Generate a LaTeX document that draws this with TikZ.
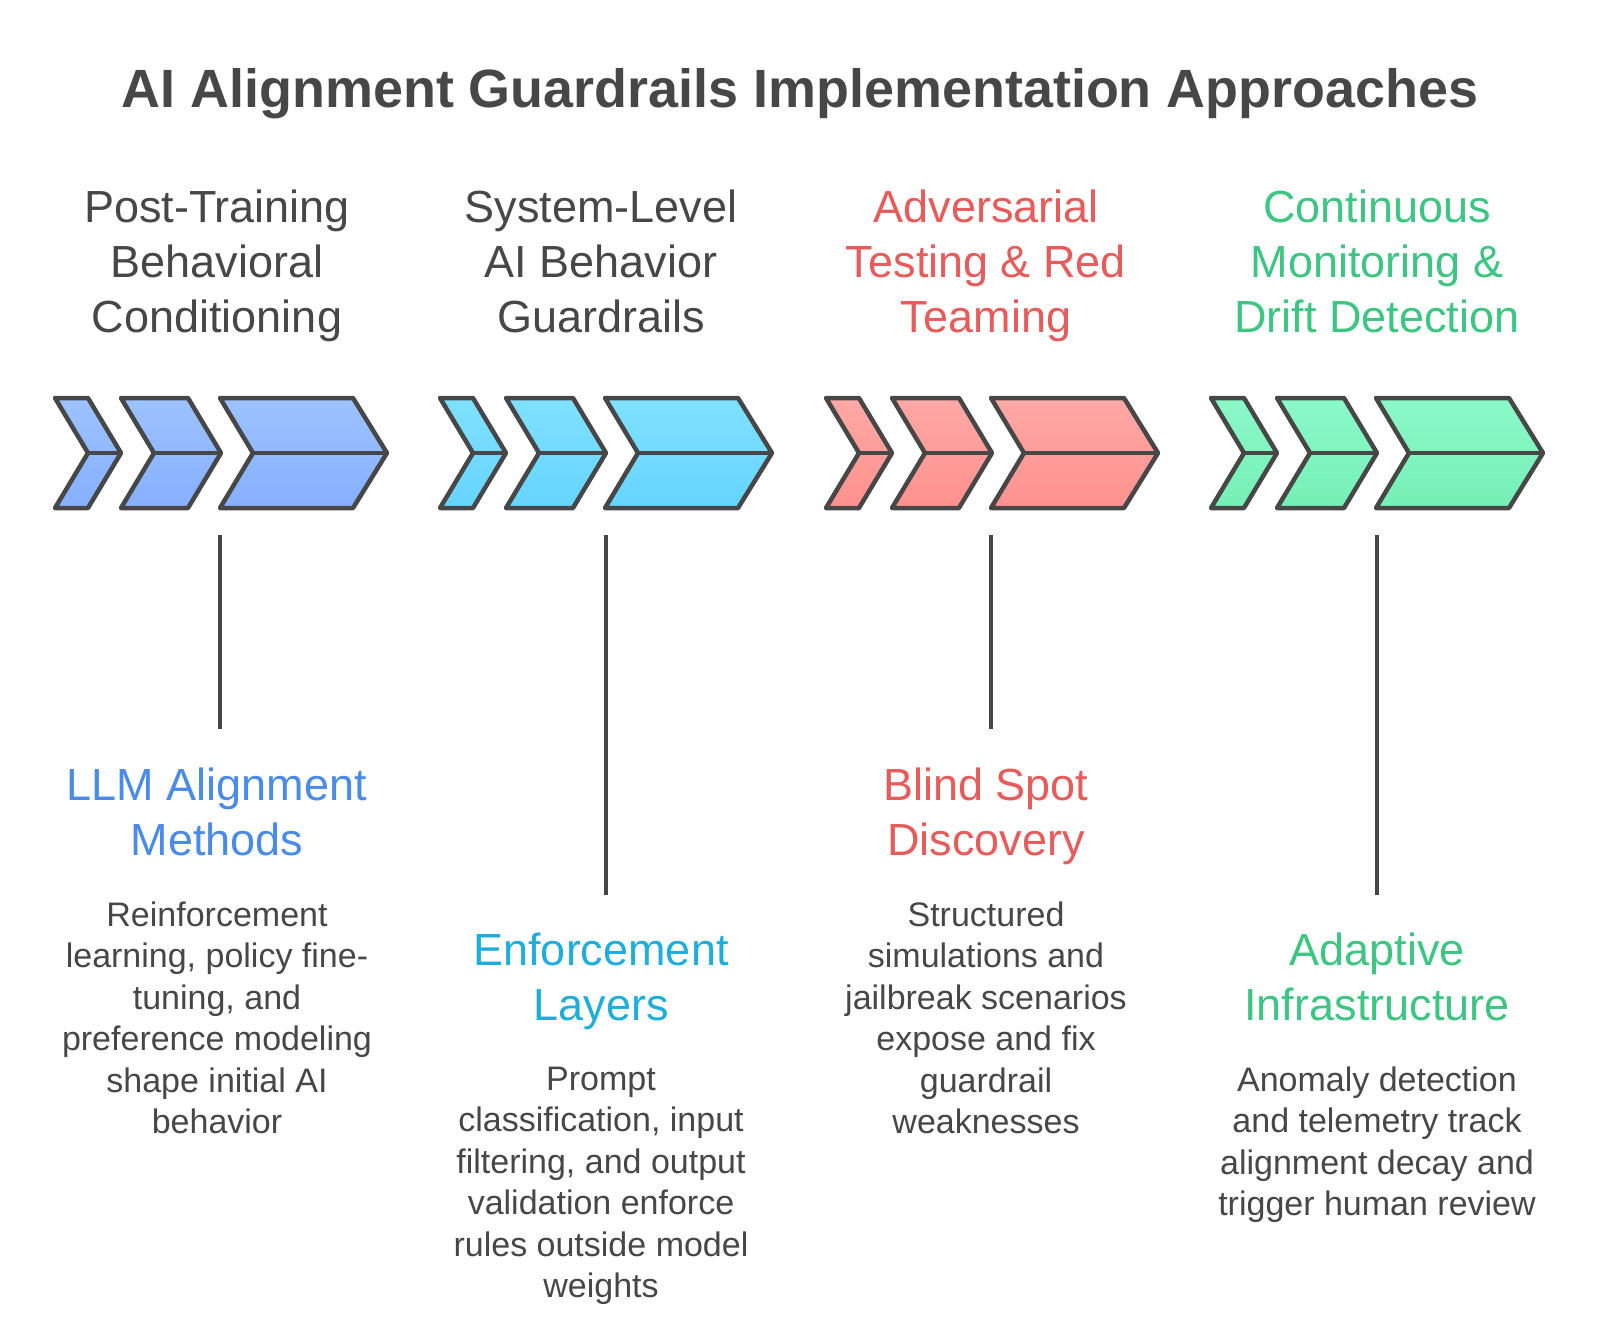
\documentclass[tikz,border=0pt]{standalone}
\usepackage{fontspec}
\setmainfont{Liberation Sans}
\usetikzlibrary{positioning}

\definecolor{inkgray}{HTML}{474747}
\definecolor{blueink}{HTML}{4A8AE8}
\definecolor{cyanink}{HTML}{1EAEDC}
\definecolor{redink}{HTML}{E85B5B}
\definecolor{greenink}{HTML}{3DC582}
\definecolor{bluetop}{HTML}{9DC2FF}
\definecolor{bluebot}{HTML}{85B0FF}
\definecolor{cyantop}{HTML}{80E1FF}
\definecolor{cyanbot}{HTML}{66D4FF}
\definecolor{redtop}{HTML}{FFA9A6}
\definecolor{redbot}{HTML}{FF918E}
\definecolor{greentop}{HTML}{8BF9C8}
\definecolor{greenbot}{HTML}{75EFB6}

\begin{document}
\begin{tikzpicture}[
    x=1pt, y=-1pt,
    title/.style={font=\fontsize{53.9}{65}\selectfont\bfseries, text=inkgray, inner sep=0pt},
    coltitle/.style={font=\fontsize{45}{55}\selectfont, align=center, anchor=north, inner sep=0pt},
    headtxt/.style={font=\fontsize{45}{55}\selectfont, align=center, anchor=north, inner sep=0pt},
    bodytxt/.style={font=\fontsize{34}{41.5}\selectfont, align=center, text=inkgray, inner sep=0pt},
    stem/.style={draw=inkgray, line width=4pt},
    chev/.style={draw=inkgray, line width=4.5pt, line join=round},
    pics/chevrons/.style n args={2}{code={
        \path[chev, top color=#1, bottom color=#2] (0,0) -- (33,0) -- (66,55) -- (33,110) -- (0,110) -- (33,55) -- cycle;
        \path[chev] (33,55) -- (66,55);
        \path[chev, top color=#1, bottom color=#2] (66,0) -- (133,0) -- (166,55) -- (133,110) -- (66,110) -- (99,55) -- cycle;
        \path[chev] (99,55) -- (166,55);
        \path[chev, top color=#1, bottom color=#2] (165,0) -- (298,0) -- (332,55) -- (298,110) -- (165,110) -- (198,55) -- cycle;
        \path[chev] (198,55) -- (332,55);
    }}
]
\useasboundingbox[fill=white] (0,0) rectangle (1600,1340);

% Title
\node[title, anchor=base] (title) at (800,108) {AI Alignment Guardrails Implementation Approaches};

% Column titles
\node[coltitle, text=inkgray] (t1) at (217,189.5) {Post-Training\\Behavioral\\Conditioning};
\node[coltitle, text=inkgray] (t2) at (601,189.5) {System-Level\\AI Behavior\\Guardrails};
\node[coltitle, text=redink] (t3) at (986,189.5) {Adversarial\\Testing \& Red\\Teaming};
\node[coltitle, text=greenink] (t4) at (1377,189.5) {Continuous\\Monitoring \&\\Drift Detection};

% Chevron rows
\pic (g1) at (55,398) {chevrons={bluetop}{bluebot}};
\pic (g2) at (440,398) {chevrons={cyantop}{cyanbot}};
\pic (g3) at (826,398) {chevrons={redtop}{redbot}};
\pic (g4) at (1211,398) {chevrons={greentop}{greenbot}};

% Stems
\coordinate (s1) at (220,535);
\coordinate (e1) at (220,729);
\coordinate (s2) at (606,535);
\coordinate (e2) at (606,895);
\coordinate (s3) at (991,535);
\coordinate (e3) at (991,729);
\coordinate (s4) at (1377,535);
\coordinate (e4) at (1377,895);
\draw[stem] (s1) -- (e1);
\draw[stem] (s2) -- (e2);
\draw[stem] (s3) -- (e3);
\draw[stem] (s4) -- (e4);

% Headings
\node[headtxt, text=blueink] (h1) at (217,767.5) {LLM Alignment\\Methods};
\node[headtxt, text=cyanink] (h2) at (601,932.5) {Enforcement\\Layers};
\node[headtxt, text=redink] (h3) at (986,767.5) {Blind Spot\\Discovery};
\node[headtxt, text=greenink] (h4) at (1377,932.5) {Adaptive\\Infrastructure};

% Descriptions
\node[bodytxt, below=134pt of h1.north] (b1) {Reinforcement\\learning, policy fine-\\tuning, and\\preference modeling\\shape initial AI\\behavior};
\node[bodytxt, below=134pt of h2.north] (b2) {Prompt\\classification, input\\filtering, and output\\validation enforce\\rules outside model\\weights};
\node[bodytxt, below=134pt of h3.north] (b3) {Structured\\simulations and\\jailbreak scenarios\\expose and fix\\guardrail\\weaknesses};
\node[bodytxt, below=134pt of h4.north] (b4) {Anomaly detection\\and telemetry track\\alignment decay and\\trigger human review};

\end{tikzpicture}
\end{document}
